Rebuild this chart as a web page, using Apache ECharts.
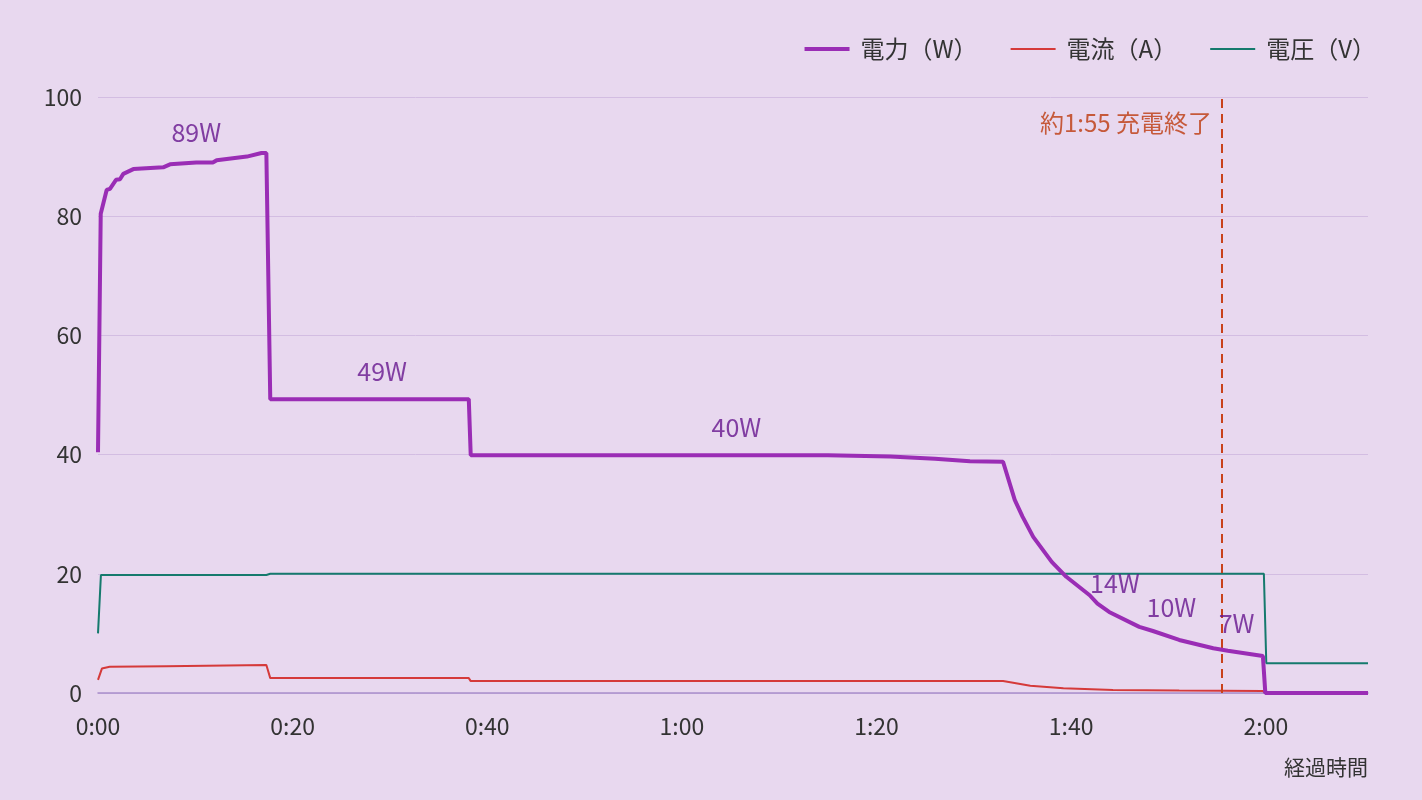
<!DOCTYPE html>
<html><head><meta charset="utf-8">
<script src="https://cdn.jsdelivr.net/npm/echarts@6/dist/echarts.min.js"></script>
<style>html,body{margin:0;padding:0;background:#e8d8ef;}#c{width:1422px;height:800px;}</style>
</head><body><div id="c"></div>
<script>
// time in minutes
const powerTime = [0,0.28,0.89,1.23,1.85,2.26,2.6,3.63,6.7,7.4,10.1,11.8,12.2,15.3,16.8,17.3,17.7,38.1,38.3,55,75,81.4,86,89.6,93.0,94.2,95.0,96.1,98.0,99.5,101.9,102.7,103.9,107.0,108.4,111.1,114.6,116.1,119.7,119.95,130.5];
const powerW    = [40.4,80.4,84.4,84.6,86.1,86.2,87.1,87.9,88.2,88.7,89.0,89.0,89.4,90.0,90.6,90.6,49.3,49.3,39.9,39.9,39.9,39.7,39.3,38.9,38.8,32.4,29.6,26.2,22.0,19.5,16.4,15.0,13.6,11.1,10.4,8.9,7.5,7.1,6.2,0,0];
const currentTime = [0,0.4,1.2,7,17.3,17.7,38.1,38.3,93,95.8,99.2,104.3,111.1,119.7,119.95,130.5];
const currentA    = [2.2,4.1,4.4,4.5,4.7,2.5,2.5,2.0,2.0,1.2,0.8,0.5,0.4,0.35,0,0];
const voltageTime = [0,0.3,17.3,17.7,119.8,120.05,130.5];
const voltageV    = [10.0,19.8,19.8,20.0,20.0,5.0,5.0];
const seriesNames = ['電力（W）','電流（A）','電圧（V）'];
const seriesColors = ['#9a2db5','#d53a3a','#157a6d'];
const labelTexts = ['89W','49W','40W','14W','10W','7W'];
const labelTime  = [10.1,29.2,65.6,104.5,110.3,117.0];
const labelValue = [94.0,54.0,44.5,18.3,14.35,11.7];
const endTime = 115.5;
const endText = '約1:55 充電終了';
const xMax = 130.5;

const zip = (a,b) => a.map((v,i)=>[v,b[i]]);
const fmt = v => { const h=Math.floor(v/60), m=Math.round(v%60); return h+':'+(m<10?'0':'')+m; };
const FONT = "'Noto Sans CJK JP','Noto Sans',sans-serif";
const iconThick = 'path://M0,0H45V4H0Z';
const iconThin = 'path://M0,0H45V2H0Z';

const chart = echarts.init(document.getElementById('c'));
chart.setOption({
  backgroundColor:'#e8d8ef',
  animation:false,
  textStyle:{fontFamily:FONT},
  grid:{left:98,right:54,top:97,bottom:107},
  legend:{
    data:[
      {name:seriesNames[0], icon:iconThick},
      {name:seriesNames[1], icon:iconThin},
      {name:seriesNames[2], icon:iconThin}
    ],
    right:41, top:32, itemWidth:45, itemHeight:14, itemGap:33,
    itemStyle:{borderWidth:0},
    textStyle:{fontSize:24,color:'#333',fontFamily:FONT,padding:[0,0,0,6]}
  },
  xAxis:{
    type:'value', min:0, max:xMax, interval:20,
    axisLine:{show:true,lineStyle:{color:'#a98ecb',width:1.5}},
    axisTick:{show:false}, splitLine:{show:false},
    axisLabel:{formatter:fmt, fontSize:23, color:'#333', margin:22, showMaxLabel:false, fontFamily:FONT},
    name:'経過時間', nameLocation:'end', nameGap:0,
    nameTextStyle:{align:'right', verticalAlign:'top', fontSize:21, color:'#333', padding:[64,0,0,0], fontFamily:FONT}
  },
  yAxis:{
    type:'value', min:0, max:100, interval:20,
    axisLine:{show:false}, axisTick:{show:false},
    splitLine:{lineStyle:{color:'#d3bde2',width:1}},
    axisLabel:{fontSize:23,color:'#333',margin:16,fontFamily:FONT}
  },
  series:[
    {name:seriesNames[0], type:'line', data:zip(powerTime,powerW), symbol:'none', z:5,
     lineStyle:{color:seriesColors[0],width:4}, itemStyle:{color:seriesColors[0]}},
    {name:seriesNames[1], type:'line', data:zip(currentTime,currentA), symbol:'none', z:3,
     lineStyle:{color:seriesColors[1],width:2}, itemStyle:{color:seriesColors[1]}},
    {name:seriesNames[2], type:'line', data:zip(voltageTime,voltageV), symbol:'none', z:3,
     lineStyle:{color:seriesColors[2],width:2}, itemStyle:{color:seriesColors[2]},
     markLine:{silent:true, symbol:'none', label:{show:false},
       lineStyle:{color:'#c9421b',width:2,type:[9,6]},
       data:[[{coord:[endTime,0]},{coord:[endTime,100]}]]}},
    {name:'labels', type:'scatter', symbolSize:0, silent:true, z:6,
     data:labelTexts.map((t,i)=>({name:t,value:[labelTime[i],labelValue[i]]})),
     label:{show:true, position:'inside', formatter:p=>p.name, fontSize:25, color:'#66168e', fontFamily:FONT}},
    {name:'endLabel', type:'scatter', symbolSize:0, silent:true, z:6,
     data:[{name:endText,value:[endTime,95.6]}],
     label:{show:true, position:'left', distance:10, formatter:p=>p.name, fontSize:24, color:'#bd3a0c', fontFamily:FONT}}
  ]
});
</script></body></html>
